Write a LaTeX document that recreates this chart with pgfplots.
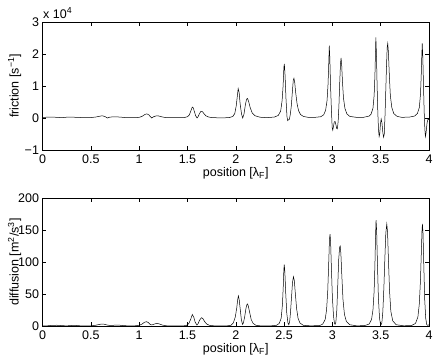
\documentclass[border=0pt]{standalone}
\usepackage{fontspec}
\setmainfont{Liberation Sans}
\usepackage{pgfplots}
\pgfplotsset{compat=1.18}

\pgfplotsset{mlab/.style={
    scale only axis, width=386.5pt, height=128pt,
    xmin=0, xmax=4,
    xtick={0,0.5,1,1.5,2,2.5,3,3.5,4},
    xticklabels={0,0.5,1,1.5,2,2.5,3,3.5,4},
    tick align=inside, tick pos=both, major tick length=4pt,
    axis line style={black, line width=0.5pt},
    tick style={black, line width=0.5pt},
    every tick label/.append style={font=\fontsize{12.5}{14}\selectfont},
    label style={font=\fontsize{12.5}{14}\selectfont},
    xlabel={position [λ\textsubscript{F}]},
    xlabel style={at={(axis description cs:0.5,0)}, anchor=center, yshift=-23pt},
    ylabel style={at={(axis description cs:-0.072,0.5)}, anchor=center},
    xticklabel style={yshift=-1pt},
  }}

\begin{document}
\begin{tikzpicture}
\path[use as bounding box] (-42.5pt,-36pt) rectangle (393.5pt,326pt);

% friction (units of 1e4 s^-1)
\begin{axis}[mlab, at={(0pt,176pt)}, name=fr,
    ymin=-1, ymax=3, ytick={-1,0,1,2,3}, yticklabels={−1,0,1,2,3},
    ylabel={friction [s\textsuperscript{−1}]}]
\addplot[black, line width=0.5pt] table {
0.00 0.02
0.05 0.025
0.10 0.03
0.15 0.02
0.20 0.01
0.25 0.025
0.30 0.03
0.35 0.02
0.40 0.015
0.45 0.01
0.50 0.015
0.55 0.03
0.60 0.06
0.62 0.07
0.65 0.04
0.67 0.0
0.70 0.03
0.75 0.035
0.80 0.03
0.85 0.015
0.90 0.01
0.95 0.01
1.00 0.02
1.03 0.05
1.06 0.11
1.08 0.13
1.10 0.10
1.12 0.03
1.13 0.0
1.15 0.04
1.18 0.07
1.20 0.065
1.23 0.04
1.27 0.015
1.32 0.01
1.40 0.01
1.47 0.015
1.50 0.04
1.52 0.10
1.535 0.22
1.55 0.34
1.56 0.32
1.57 0.22
1.585 0.07
1.60 0.0
1.61 0.04
1.625 0.14
1.64 0.21
1.655 0.20
1.67 0.14
1.69 0.07
1.72 0.03
1.76 0.01
1.85 0.005
1.93 0.01
1.97 0.05
1.99 0.14
2.005 0.38
2.015 0.65
2.025 0.92
2.035 0.80
2.045 0.45
2.06 0.12
2.072 0.0
2.085 0.12
2.10 0.42
2.112 0.59
2.122 0.61
2.135 0.50
2.15 0.32
2.17 0.16
2.20 0.07
2.25 0.025
2.32 0.01
2.40 0.03
2.44 0.08
2.465 0.22
2.48 0.55
2.49 1.00
2.498 1.58
2.503 1.69
2.51 1.35
2.52 0.6
2.53 0.05
2.537 -0.08
2.545 -0.06
2.555 -0.04
2.565 0.12
2.575 0.38
2.585 0.78
2.595 1.17
2.602 1.24
2.61 1.12
2.62 0.80
2.635 0.44
2.65 0.23
2.67 0.11
2.70 0.05
2.75 0.02
2.82 0.02
2.88 0.04
2.91 0.10
2.93 0.24
2.945 0.55
2.955 1.05
2.962 1.65
2.968 2.26
2.974 1.85
2.98 1.10
2.99 0.25
2.998 -0.3
3.004 -0.38
3.012 -0.25
3.02 -0.12
3.028 -0.11
3.036 -0.2
3.045 -0.33
3.052 -0.34
3.06 -0.1
3.068 0.4
3.076 1.1
3.084 1.7
3.09 1.88
3.097 1.62
3.105 1.10
3.115 0.62
3.13 0.30
3.15 0.13
3.18 0.05
3.25 0.02
3.32 0.02
3.38 0.06
3.40 0.12
3.42 0.30
3.432 0.70
3.44 1.30
3.446 2.05
3.45 2.52
3.456 2.0
3.463 1.0
3.47 0.2
3.477 -0.35
3.484 -0.58
3.49 -0.5
3.497 -0.2
3.505 -0.03
3.513 -0.15
3.522 -0.45
3.53 -0.6
3.537 -0.5
3.545 0.1
3.552 0.8
3.56 1.6
3.567 2.2
3.573 2.33
3.58 2.05
3.59 1.30
3.60 0.70
3.615 0.33
3.635 0.14
3.67 0.05
3.72 0.02
3.80 0.03
3.85 0.06
3.88 0.14
3.90 0.33
3.912 0.75
3.92 1.38
3.926 2.0
3.93 2.33
3.936 1.9
3.943 1.0
3.95 0.2
3.957 -0.35
3.963 -0.58
3.97 -0.45
3.98 -0.15
3.99 -0.03
4.00 -0.05
};
\end{axis}
\node[anchor=base west, inner sep=0pt, font=\fontsize{12.5}{14}\selectfont]
  at ([xshift=0.5pt, yshift=4pt]fr.north west) {x 10\textsuperscript{4}};

% diffusion
\begin{axis}[mlab, at={(0pt,0pt)},
    ymin=0, ymax=200, ytick={0,50,100,150,200},
    yticklabels={0,50,100,150,200},
    ylabel={diffusion [m\textsuperscript{2}/s\textsuperscript{3}]}]
\addplot[black, line width=0.5pt] table {
0.00 0
0.05 0.3
0.10 1.0
0.15 1.2
0.20 0.6
0.25 0.2
0.30 0.8
0.33 1.0
0.37 0.5
0.42 0.1
0.50 0.2
0.55 1.2
0.60 2.8
0.63 3.0
0.67 1.5
0.70 0.8
0.75 1.3
0.79 1.4
0.84 0.6
0.90 0.1
0.95 0.2
1.00 1.0
1.03 3.0
1.055 5.8
1.075 6.7
1.095 5.5
1.115 2.5
1.13 1.6
1.15 2.6
1.175 3.9
1.19 4.0
1.21 3.2
1.24 1.5
1.28 0.4
1.35 0.1
1.45 0.1
1.49 0.8
1.515 4.0
1.535 11
1.55 18
1.565 14
1.58 6
1.598 1.5
1.61 3.5
1.625 9
1.645 13
1.66 11.5
1.68 6.5
1.70 3
1.73 1
1.78 0.2
1.90 0.1
1.95 1
1.975 5
1.995 14
2.01 28
2.02 41
2.027 47
2.035 42
2.045 28
2.058 10
2.07 2.5
2.08 5
2.093 15
2.105 27
2.115 33.5
2.122 34.5
2.13 31
2.143 22
2.16 10
2.18 4
2.21 1
2.26 0.2
2.35 0.1
2.42 1
2.45 4
2.47 12
2.483 33
2.492 63
2.498 89
2.502 96
2.508 85
2.517 52
2.528 20
2.54 5
2.549 2
2.558 7
2.567 22
2.578 47
2.588 69
2.597 77
2.606 71
2.617 50
2.63 27
2.645 12
2.665 4.5
2.70 1
2.78 0.2
2.87 0.8
2.90 3
2.925 10
2.94 25
2.952 55
2.962 98
2.97 136
2.976 143.7
2.982 130
2.99 90
3.00 45
3.012 15
3.022 4
3.028 2.5
3.036 6
3.046 25
3.056 65
3.066 105
3.075 123
3.081 125
3.088 113
3.098 78
3.11 41
3.125 18
3.145 7
3.18 2
3.25 0.3
3.33 0.5
3.38 3
3.405 10
3.42 25
3.432 54
3.44 94
3.447 142
3.452 165.6
3.458 150
3.466 100
3.476 45
3.488 12
3.498 3
3.504 2
3.512 5
3.522 22
3.533 60
3.543 105
3.553 145
3.563 159.4
3.571 147
3.58 104
3.592 54
3.605 23
3.625 8
3.66 2
3.74 0.3
3.82 0.8
3.86 4
3.885 14
3.90 35
3.912 73
3.921 117
3.928 151
3.932 159.4
3.938 145
3.946 95
3.956 40
3.966 12
3.977 2
3.988 1
4.00 2
};
\end{axis}
\end{tikzpicture}
\end{document}
